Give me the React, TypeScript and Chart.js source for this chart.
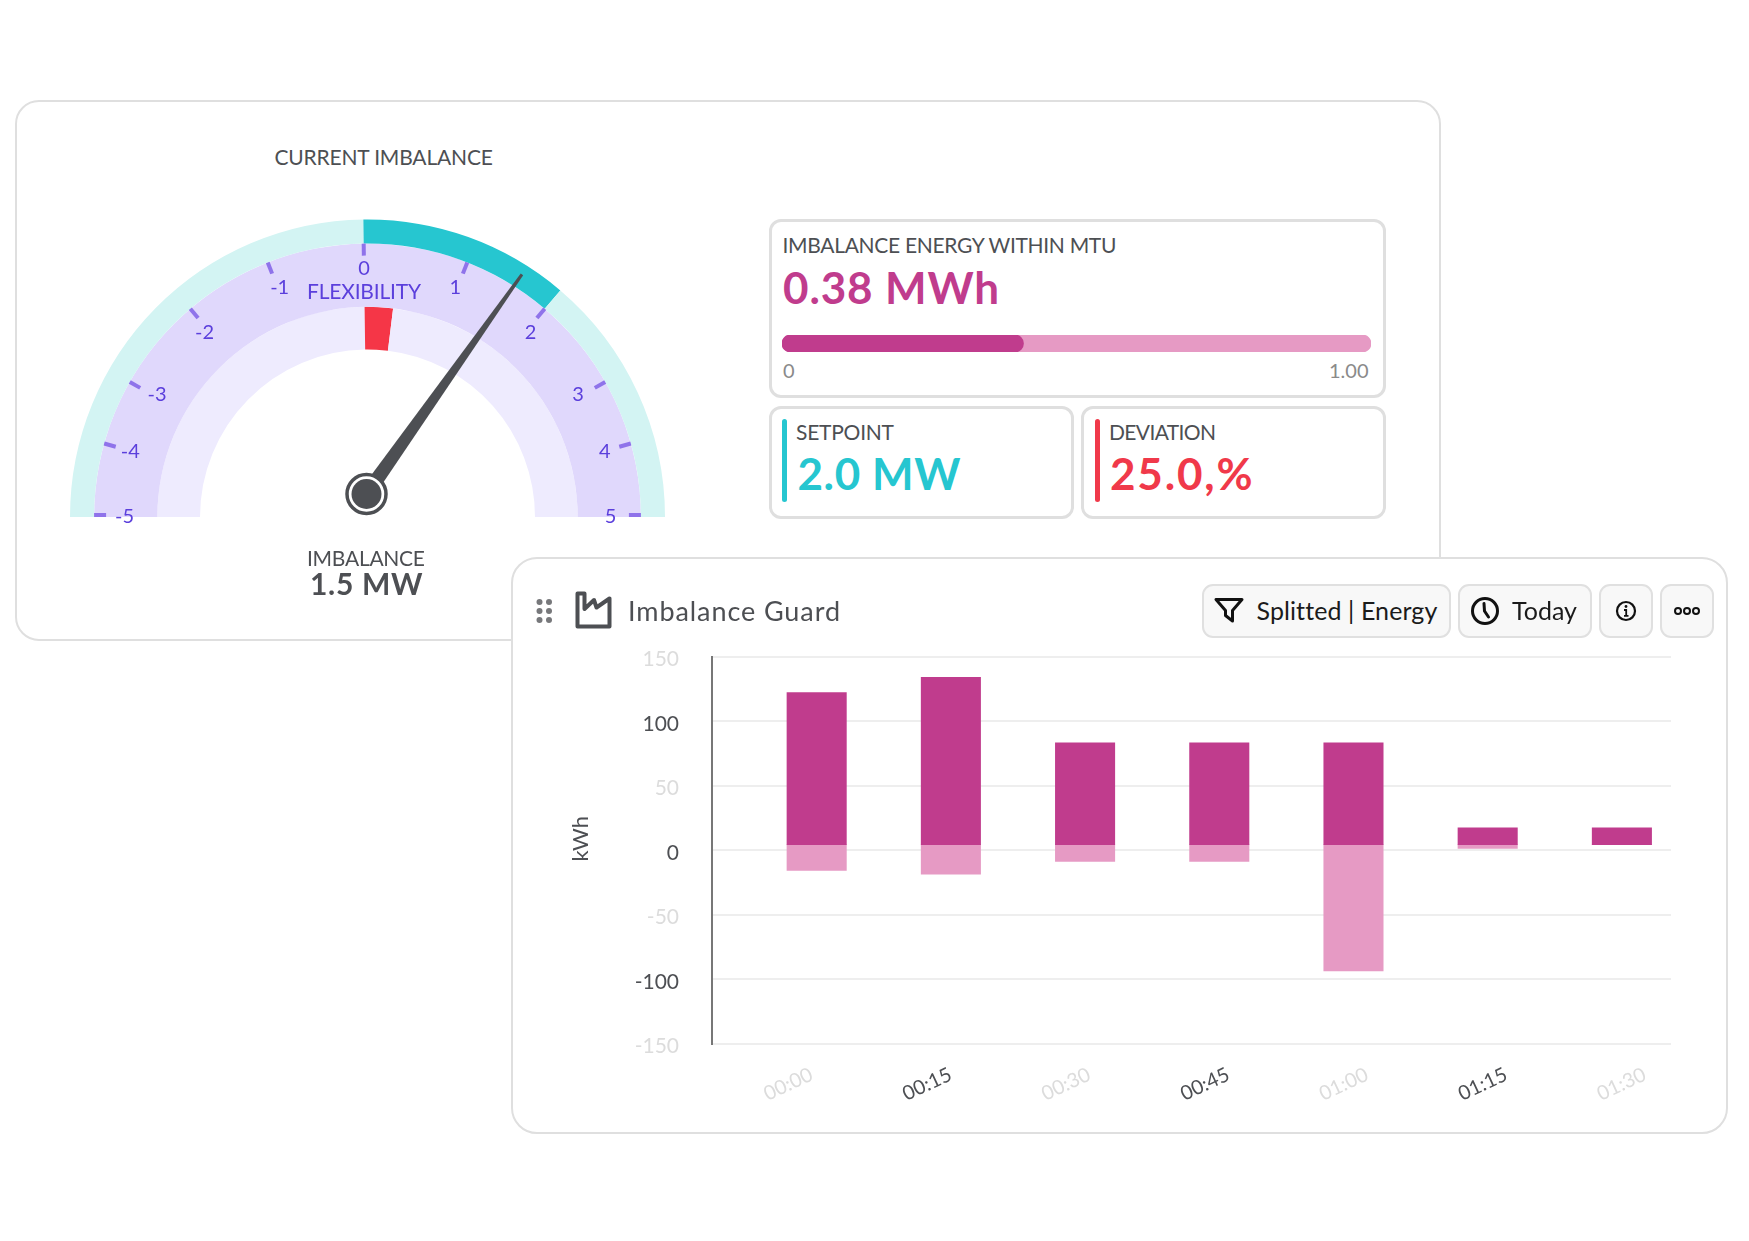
import React, { useEffect, useRef } from "react";
import { Chart, registerables } from "chart.js";

Chart.register(...registerables);

const FONT = "Lato, 'Noto Sans', sans-serif";
const INK = "#4d4f53";
const FAINT = "#dcdcdc";
const MAGENTA = "#c03c8d";
const PINK = "#e69ac4";
const TEAL = "#26c6d0";
const PALE_TEAL = "#d3f4f3";
const LILAC = "#e0d8fc";
const PALE_LILAC = "#eeebfe";
const RED = "#f53647";
const VIOLET = "#5b3fdc";
const TICK_VIOLET = "#8f73ea";

// Bar chart data
const categories = ["00:00", "00:15", "00:30", "00:45", "01:00", "01:15", "01:30"];
const supplied = [118, 130, 79, 79, 79, 13, 13];
const withdrawn = [-20, -23, -13, -13, -98, -3, 0];

// Gauge data (sweep of each arc, degrees over the half circle)
const setpointArc = [89.2, 41.2, 49.6];
const flexibilityArc = [180];
const deviationArc = [89.2, 7.8, 83];
const gaugeTickLabels = ["-5", "-4", "-3", "-2", "-1", "0", "1", "2", "3", "4", "5"];
const gaugeTickAngles = [-90, -74.4, -60.4, -40.4, -21.4, -0.8, 21.4, 40.4, 60.4, 74.4, 90];
const gaugeLabelAngles = [-90, -74.7, -60, -41.5, -21, -0.8, 21, 41.5, 60, 74.7, 90];
const gaugeLabelRadii = [243, 246, 243, 246, 245, 248, 245, 246, 243, 246, 243];
const needleAngle = 35.3;

// Progress bar data
const progressValue = [0.41];
const progressTrack = [1];

const gaugeOverlay = {
  id: "gaugeOverlay",
  afterDatasetsDraw(chart: any) {
    const { ctx } = chart;
    const { x: cx, y: cy, outerRadius } = chart.getDatasetMeta(1).data[0] as any;
    const rad = (a: number) => (a * Math.PI) / 180;
    ctx.save();
    gaugeTickAngles.forEach((a) => {
      const sx = Math.sin(rad(a));
      const cy_ = Math.cos(rad(a));
      ctx.strokeStyle = TICK_VIOLET;
      ctx.lineWidth = 4;
      ctx.beginPath();
      ctx.moveTo(cx + sx * outerRadius, cy - cy_ * outerRadius + (Math.abs(a) === 90 ? -2 : 0));
      ctx.lineTo(cx + sx * (outerRadius - 12), cy - cy_ * (outerRadius - 12) + (Math.abs(a) === 90 ? -2 : 0));
      ctx.stroke();
    });
    gaugeLabelAngles.forEach((a, i) => {
      ctx.fillStyle = VIOLET;
      ctx.font = `20px ${FONT}`;
      ctx.textAlign = "center";
      ctx.textBaseline = "middle";
      const r = gaugeLabelRadii[i];
      ctx.fillText(gaugeTickLabels[i], cx + Math.sin(rad(a)) * r, cy - Math.cos(rad(a)) * r - 0.5);
    });
    const hx = cx - 1;
    const hy = cy - 23;
    const len = 269;
    const ux = Math.sin(rad(needleAngle));
    const uy = -Math.cos(rad(needleAngle));
    ctx.fillStyle = INK;
    ctx.beginPath();
    ctx.moveTo(hx + ux * len + uy * 1.5, hy + uy * len - ux * 1.5);
    ctx.lineTo(hx + ux * len - uy * 1.5, hy + uy * len + ux * 1.5);
    ctx.lineTo(hx - uy * 7.5, hy + ux * 7.5);
    ctx.lineTo(hx + uy * 7.5, hy - ux * 7.5);
    ctx.closePath();
    ctx.fill();
    ctx.fillStyle = "#fff";
    ctx.strokeStyle = INK;
    ctx.lineWidth = 3.5;
    ctx.beginPath();
    ctx.arc(hx, hy, 19.5, 0, Math.PI * 2);
    ctx.fill();
    ctx.stroke();
    ctx.fillStyle = INK;
    ctx.beginPath();
    ctx.arc(hx, hy, 15, 0, Math.PI * 2);
    ctx.fill();
    ctx.restore();
  },
};

const measure = document.createElement("canvas").getContext("2d") as CanvasRenderingContext2D;

function T({ x, cy, size, text, w, color = INK, weight = 400, center, right }: any) {
  measure.font = `${weight} ${size}px Lato`;
  const natural = measure.measureText(text).width;
  const ls = w ? (w - natural) / Math.max(text.length - 1, 1) : 0;
  const style: React.CSSProperties = {
    position: "absolute",
    top: cy - 1,
    whiteSpace: "pre",
    fontFamily: FONT,
    fontSize: size,
    fontWeight: weight,
    color,
    lineHeight: 1,
    letterSpacing: ls,
    transform: center ? "translate(-50%,-50%)" : right ? "translate(-100%,-50%)" : "translateY(-50%)",
    left: x,
  };
  return <div style={style}>{text}</div>;
}

function Box({ l, t, r, b, radius = 12, border = "#dfdfdf", bw = 3, bg = "#fff" }: any) {
  return (
    <div
      style={{
        position: "absolute",
        left: l,
        top: t,
        width: r - l,
        height: b - t,
        boxSizing: "border-box",
        border: `${bw}px solid ${border}`,
        borderRadius: radius,
        background: bg,
      }}
    />
  );
}

function Rule({ x, t, b, color }: any) {
  return (
    <div style={{ position: "absolute", left: x, top: t, width: 5, height: b - t, borderRadius: 3, background: color }} />
  );
}

function Svg({ x, y, w, h, children }: any) {
  return (
    <svg style={{ position: "absolute", left: x, top: y }} width={w} height={h} viewBox={`0 0 ${w} ${h}`} fill="none">
      {children}
    </svg>
  );
}

export default function App() {
  const gaugeRef = useRef<HTMLCanvasElement>(null);
  const progressRef = useRef<HTMLCanvasElement>(null);
  const barRef = useRef<HTMLCanvasElement>(null);

  useEffect(() => {
    const gauge = new Chart(gaugeRef.current as HTMLCanvasElement, {
      type: "doughnut",
      data: {
        datasets: [
          { data: setpointArc, backgroundColor: [PALE_TEAL, TEAL, PALE_TEAL], weight: 24, borderWidth: 0 },
          { data: flexibilityArc, backgroundColor: [LILAC], weight: 63, borderWidth: 0 },
          { data: deviationArc, backgroundColor: [PALE_LILAC, RED, PALE_LILAC], weight: 42.5, borderWidth: 0 },
        ],
      } as any,
      options: {
        responsive: false,
        animation: false,
        rotation: -90,
        circumference: 180,
        cutout: "56.3%",
        layout: { padding: { left: 20, right: 20, top: 20.5, bottom: 32 } },
        plugins: { legend: { display: false }, tooltip: { enabled: false } },
      },
      plugins: [gaugeOverlay],
    });

    const progress = new Chart(progressRef.current as HTMLCanvasElement, {
      type: "bar",
      data: {
        labels: ["Imbalance energy"],
        datasets: [
          { data: progressValue, backgroundColor: MAGENTA, grouped: false, barThickness: 17, borderRadius: 9, borderSkipped: false },
          { data: progressTrack, backgroundColor: PINK, grouped: false, barThickness: 17, borderRadius: 9, borderSkipped: false },
        ],
      } as any,
      options: {
        indexAxis: "y",
        responsive: false,
        animation: false,
        layout: { padding: 0 },
        scales: {
          x: { display: false, min: 0, max: 1 },
          y: { display: false },
        },
        plugins: { legend: { display: false }, tooltip: { enabled: false } },
      },
    });

    const points = (values: number[]) => values.map((y, x) => ({ x, y }));
    const bars = new Chart(barRef.current as HTMLCanvasElement, {
      type: "bar",
      data: {
        datasets: [
          { label: "Supplied", data: points(supplied), backgroundColor: MAGENTA, grouped: false, barThickness: 59.4, xAxisID: "xBars", yAxisID: "yBars" },
          { label: "Withdrawn", data: points(withdrawn), backgroundColor: PINK, grouped: false, barThickness: 59.4, xAxisID: "xBars", yAxisID: "yBars" },
        ],
      } as any,
      options: {
        responsive: false,
        animation: false,
        layout: { padding: { top: 0, right: 19, left: 0, bottom: 0 } },
        plugins: { legend: { display: false }, tooltip: { enabled: false } },
        scales: {
          xBars: { axis: "x", type: "linear", display: false, offset: false, min: -0.78, max: 6.366 },
          yBars: { axis: "y", type: "linear", display: false, min: -154.4, max: 146 },
          xLabels: {
            axis: "x",
            type: "linear",
            position: "bottom",
            offset: false,
            min: -0.717,
            max: 6.188,
            afterBuildTicks: (s: any) => {
              s.ticks = categories.map((_, i) => ({ value: i }));
            },
            afterFit: (s: any) => {
              s.height = 67.5;
            },
            grid: { display: false, drawTicks: false },
            border: { display: false },
            ticks: {
              autoSkip: false,
              minRotation: 25,
              maxRotation: 25,
              padding: 19,
              color: (c: any) => (c.index % 2 ? INK : FAINT),
              font: { family: FONT, size: 20 },
              callback: (v: any) => categories[v],
            },
          },
          y: {
            type: "linear",
            position: "left",
            min: -150,
            max: 150,
            afterFit: (s: any) => {
              s.width = 152;
            },
            title: {
              display: true,
              text: "    kWh",
              color: INK,
              font: { family: FONT, size: 22 },
              padding: { top: 8, bottom: 0 },
            },
            grid: { color: "#eeeeee", lineWidth: 2, drawTicks: false },
            border: { color: "#777777", width: 2 },
            ticks: {
              stepSize: 50,
              padding: 33,
              labelOffset: 3,
              color: (c: any) => (c.tick.value % 100 === 0 ? INK : FAINT),
              font: { family: FONT, size: 21 },
            },
          },
        } as any,
      },
    });

    return () => {
      gauge.destroy();
      progress.destroy();
      bars.destroy();
    };
  }, []);

  return (
    <div style={{ position: "absolute", left: 0, top: 0, width: 1749, height: 1241, overflow: "hidden", background: "#fff" }}>
      <Box l={14.5} t={99.5} r={1441} b={641} radius={24} bw={2.5} />
      <T x={274.5} cy={157} size={21} text="CURRENT IMBALANCE" w={219} />
      <canvas ref={gaugeRef} width={635} height={350} style={{ position: "absolute", left: 50, top: 199 }} />
      <T x={307} cy={291} size={21} text="FLEXIBILITY" w={114} color={VIOLET} />
      <T x={307} cy={558} size={21} text="IMBALANCE" w={118} />
      <T x={310} cy={584} size={30} text="1.5 MW" w={112.5} weight={700} />

      <Box l={769} t={219} r={1386} b={398} />
      <T x={782.5} cy={245} size={21} text="IMBALANCE ENERGY WITHIN MTU" w={335} />
      <T x={783} cy={288} size={44} text="0.38 MWh" w={216} color={MAGENTA} weight={700} />
      <canvas ref={progressRef} width={589} height={17} style={{ position: "absolute", left: 782, top: 335 }} />
      <T x={783} cy={371} size={20} text="0" color="#8a8a8a" />
      <T x={1368.5} cy={371} size={20} text="1.00" color="#8a8a8a" right />

      <Box l={769} t={406} r={1073.5} b={519} />
      <Rule x={782} t={419} b={502} color={TEAL} />
      <T x={796} cy={432} size={21} text="SETPOINT" w={98} />
      <T x={797.5} cy={474} size={44} text="2.0 MW" w={163} color={TEAL} weight={700} />

      <Box l={1081} t={406} r={1386} b={519} />
      <Rule x={1094.5} t={419} b={502} color="#f0394a" />
      <T x={1109} cy={432} size={21} text="DEVIATION" w={107} />
      <T x={1110} cy={474} size={44} text="25.0,%" w={142.5} color="#f0394a" weight={700} />

      <Box l={511} t={556.5} r={1728} b={1134} radius={26} bw={2.5} />
      <canvas ref={barRef} width={1130} height={500} style={{ position: "absolute", left: 560, top: 611 }} />

      <Svg x={534} y={597} w={20} h={28}>
        {[0, 1, 2].map((r) =>
          [0, 1].map((c) => <circle key={`${r}${c}`} cx={5.5 + c * 9.5} cy={5 + r * 9} r={3} fill="#77787b" />)
        )}
      </Svg>
      <Svg x={574} y={590} w={40} h={40}>
        <path
          d="M3.5 3.5 H10.5 V19 L20 10 L22.5 17.5 L35.5 8.5 V36.5 H3.5 Z"
          stroke={INK}
          strokeWidth={4}
          strokeLinejoin="round"
          strokeLinecap="round"
        />
      </Svg>
      <T x={628} cy={611} size={27} text="Imbalance Guard" w={212} />

      <Box l={1202} t={583.5} r={1450.5} b={638} radius={11} bw={2} border="#e0e0e0" bg="#f8f8f8" />
      <Svg x={1213} y={596} w={32} h={28}>
        <path d="M3 3.5 H29 L19.5 14.5 V25 L12.5 19.5 V14.5 Z" stroke="#111" strokeWidth={3} strokeLinejoin="round" />
      </Svg>
      <T x={1256.5} cy={611} size={25} text="Splitted | Energy" w={180} color="#1b1b1b" />

      <Box l={1458} t={583.5} r={1591.5} b={638} radius={11} bw={2} border="#e0e0e0" bg="#f8f8f8" />
      <Svg x={1469} y={595} w={32} h={32}>
        <circle cx={16} cy={16} r={12.5} stroke="#111" strokeWidth={3} />
        <path d="M15 8.5 L15.5 16 L19.5 22" stroke="#111" strokeWidth={3} strokeLinecap="round" />
      </Svg>
      <T x={1512} cy={611} size={25} text="Today" w={65} color="#1b1b1b" />

      <Box l={1599} t={583.5} r={1652.5} b={638} radius={11} bw={2} border="#e0e0e0" bg="#f8f8f8" />
      <Svg x={1614} y={599} w={24} h={24}>
        <circle cx={12} cy={12} r={9} stroke="#111" strokeWidth={2.2} />
        <circle cx={12} cy={7.5} r={1.4} fill="#111" />
        <path d="M10 11 H12.2 V16.5 M10 16.8 H14.5" stroke="#111" strokeWidth={1.8} />
      </Svg>

      <Box l={1660} t={583.5} r={1713.5} b={638} radius={11} bw={2} border="#e0e0e0" bg="#f8f8f8" />
      <Svg x={1673} y={604} w={28} h={14}>
        {[0, 1, 2].map((i) => (
          <circle key={i} cx={5 + i * 9} cy={7} r={3} stroke="#111" strokeWidth={2} />
        ))}
      </Svg>
    </div>
  );
}
